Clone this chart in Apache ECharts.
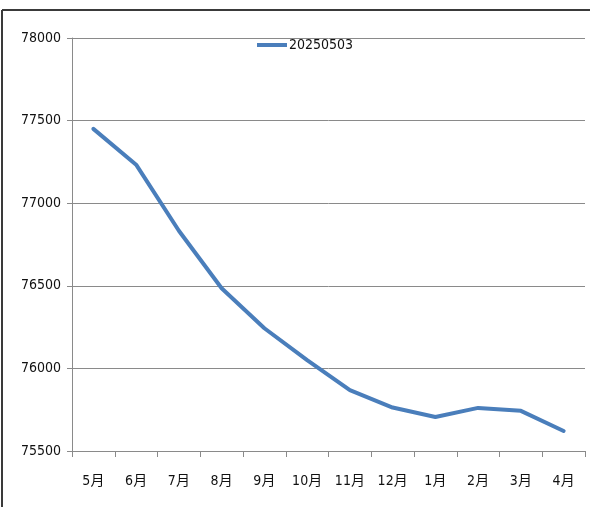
<!DOCTYPE html>
<html>
<head>
<meta charset="utf-8">
<style>
  html, body { margin: 0; padding: 0; background: #fff; overflow: hidden; }
  #chart { width: 590px; height: 507px; }
</style>
<script src="https://cdn.jsdelivr.net/npm/echarts@6/dist/echarts.min.js"></script>
</head>
<body>
<div id="chart"></div>
<script>
// Monthly series, May through April
const months = ['5月', '6月', '7月', '8月', '9月', '10月', '11月', '12月', '1月', '2月', '3月', '4月'];
const seriesName = '20250503';
const values = [77450, 77233, 76833, 76485, 76243, 76050, 75868, 75763, 75706, 75761, 75743, 75621];
const yMin = 75500;
const yMax = 78000;
const yStep = 500;

const labelFont = "'DejaVu Sans Condensed', 'Noto Sans CJK SC', sans-serif";

const chart = echarts.init(document.getElementById('chart'), null, { renderer: 'canvas' });

chart.setOption({
  animation: false,
  backgroundColor: '#ffffff',
  // frame edges along the top and left of the chart; right margin kept blank
  graphic: [
    {
      type: 'rect',
      shape: { x: 586, y: 11, width: 10, height: 500 },
      style: { fill: '#ffffff' },
      silent: true,
      z: 100
    },
    {
      type: 'line',
      shape: { x1: 2, y1: 10, x2: 590, y2: 10 },
      style: { stroke: '#3a3a3a', lineWidth: 2 },
      silent: true,
      z: 101
    },
    {
      type: 'line',
      shape: { x1: 2, y1: 10, x2: 2, y2: 507 },
      style: { stroke: '#3a3a3a', lineWidth: 2 },
      silent: true,
      z: 101
    }
  ],
  grid: { left: 72, top: 38, right: 5, bottom: 56, containLabel: false },
  legend: {
    data: [seriesName],
    left: 257,
    top: 38,
    padding: 0,
    icon: 'rect',
    itemWidth: 30,
    itemHeight: 4,
    itemGap: 2,
    textStyle: { fontFamily: labelFont, fontSize: 14, color: '#111', padding: [0, 0, 0, -3] }
  },
  xAxis: {
    type: 'category',
    data: months,
    boundaryGap: true,
    axisLine: { show: true, lineStyle: { color: '#8a8a8a', width: 1 } },
    axisTick: { show: true, length: 6, inside: false, lineStyle: { color: '#8a8a8a' } },
    axisLabel: { interval: 0, fontFamily: labelFont, fontSize: 14, color: '#111', margin: 23 },
    splitLine: { show: false }
  },
  yAxis: {
    type: 'value',
    min: yMin,
    max: yMax,
    interval: yStep,
    axisLine: { show: true, lineStyle: { color: '#8a8a8a', width: 1 } },
    axisTick: { show: true, length: 5, lineStyle: { color: '#8a8a8a' } },
    axisLabel: {
      fontFamily: labelFont, fontSize: 14, color: '#111', margin: 11,
      formatter: (v) => String(v)
    },
    splitLine: { show: true, lineStyle: { color: '#8a8a8a', width: 1 } }
  },
  series: [
    {
      name: seriesName,
      type: 'line',
      data: values,
      symbol: 'none',
      smooth: false,
      lineStyle: { color: '#4a7ebb', width: 4, cap: 'round', join: 'round' },
      itemStyle: { color: '#4a7ebb' },
      z: 3
    }
  ]
});
</script>
</body>
</html>
